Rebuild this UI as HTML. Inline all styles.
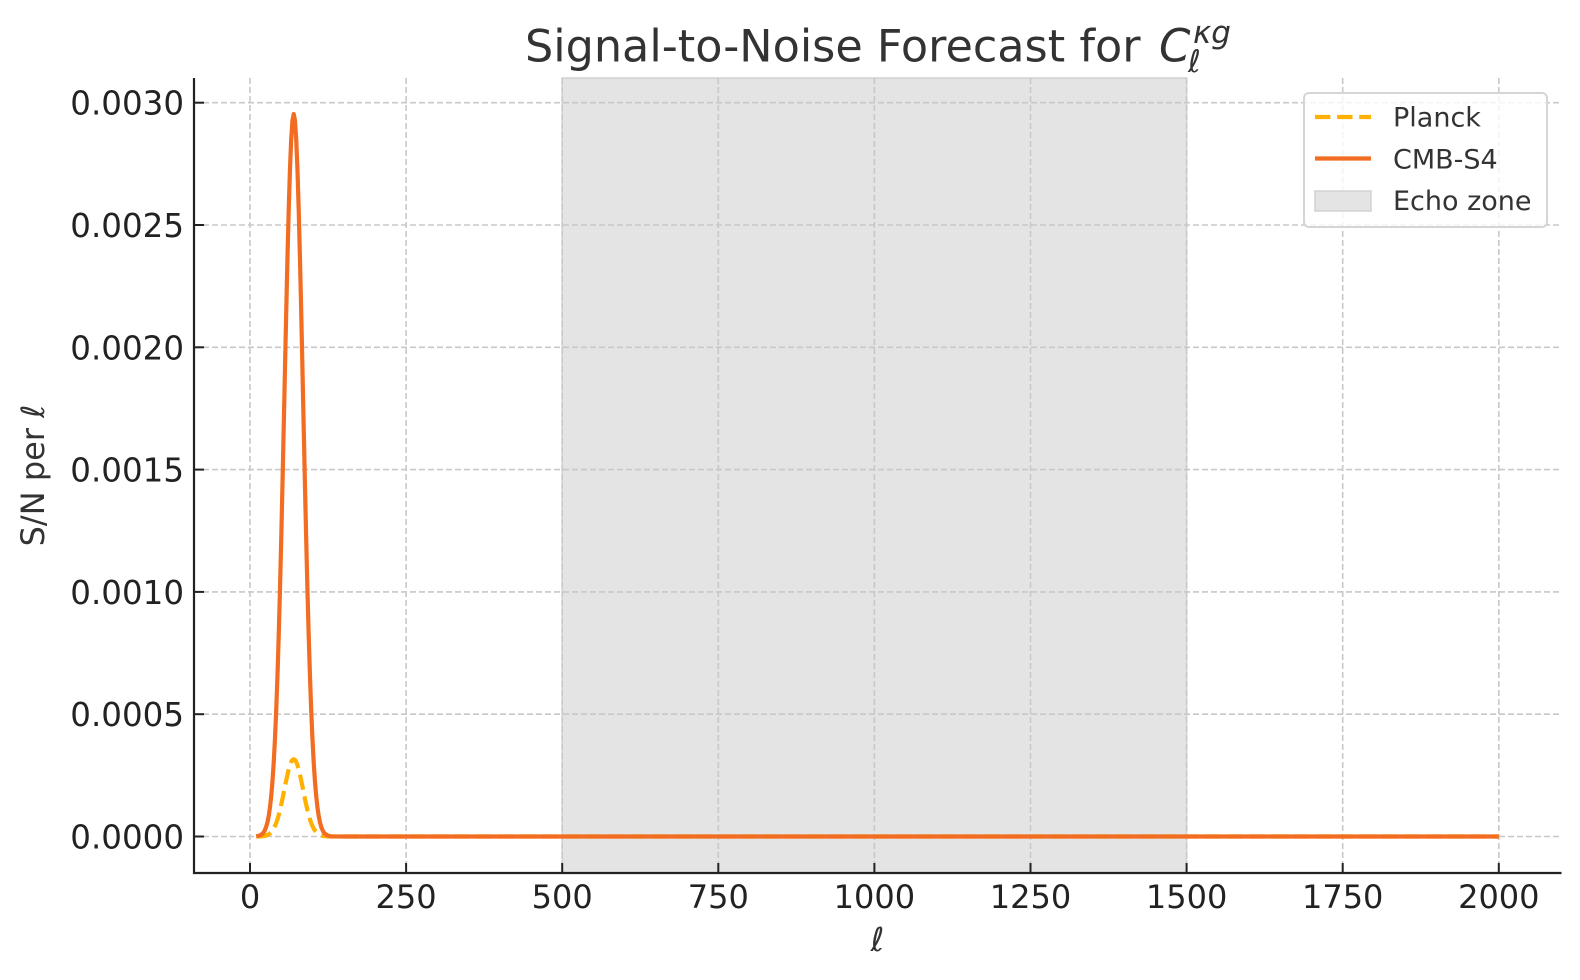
<!DOCTYPE html>
<html>
<head>
<meta charset="utf-8">
<style>
  html, body { margin: 0; padding: 0; background: #ffffff; }
  svg { display: block; }
  text { font-family: "DejaVu Sans", "Liberation Sans", sans-serif; }
</style>
</head>
<body>
<svg width="1580" height="980" viewBox="0 0 1580 980" xmlns="http://www.w3.org/2000/svg">
  <rect x="0" y="0" width="1580" height="980" fill="#ffffff"/>

  <!-- Echo zone shade -->
  <rect x="562.2" y="78" width="624.4" height="795" fill="#e4e4e4" stroke="#d2d2d2" stroke-width="1.5"/>

  <!-- Grid -->
  <g stroke="#c8c8c8" stroke-width="1.6" stroke-dasharray="6 3" fill="none">
    <line x1="194" y1="836.5" x2="1561" y2="836.5"/>
    <line x1="194" y1="714.2" x2="1561" y2="714.2"/>
    <line x1="194" y1="591.9" x2="1561" y2="591.9"/>
    <line x1="194" y1="469.6" x2="1561" y2="469.6"/>
    <line x1="194" y1="347.3" x2="1561" y2="347.3"/>
    <line x1="194" y1="225.0" x2="1561" y2="225.0"/>
    <line x1="194" y1="102.7" x2="1561" y2="102.7"/>
    <line x1="250" y1="78" x2="250" y2="873"/>
    <line x1="406.1" y1="78" x2="406.1" y2="873"/>
    <line x1="562.2" y1="78" x2="562.2" y2="873"/>
    <line x1="718.3" y1="78" x2="718.3" y2="873"/>
    <line x1="874.4" y1="78" x2="874.4" y2="873"/>
    <line x1="1030.5" y1="78" x2="1030.5" y2="873"/>
    <line x1="1186.6" y1="78" x2="1186.6" y2="873"/>
    <line x1="1342.7" y1="78" x2="1342.7" y2="873"/>
    <line x1="1498.8" y1="78" x2="1498.8" y2="873"/>
  </g>

  <!-- Planck (dashed) -->
  <path fill="none" stroke="#ffb000" stroke-width="4.2" stroke-dasharray="15.4 6.7" stroke-linejoin="round"
    d="M256.24,836.5 L259.99,836.4 L262.49,836.2 L263.74,836.0 L264.99,835.8 L266.24,835.5 L267.48,835.0 L268.73,834.3 L269.98,833.4 L271.23,832.2 L272.48,830.6 L273.73,828.6 L274.98,826.0 L276.23,823.0 L277.48,819.3 L278.72,815.0 L279.97,810.1 L281.22,804.7 L282.47,798.9 L283.72,792.7 L284.97,786.5 L286.22,780.4 L287.47,774.6 L288.71,769.4 L289.96,765.1 L291.21,761.9 L292.46,759.9 L293.71,759.2 L294.96,759.9 L296.21,761.9 L297.46,765.1 L298.71,769.4 L299.95,774.6 L301.2,780.4 L302.45,786.5 L303.7,792.7 L304.95,798.9 L306.2,804.7 L307.45,810.1 L308.7,815.0 L309.95,819.3 L311.19,823.0 L312.44,826.0 L313.69,828.6 L314.94,830.6 L316.19,832.2 L317.44,833.4 L318.69,834.3 L319.94,835.0 L321.19,835.5 L322.43,835.8 L323.68,836.0 L324.93,836.2 L327.43,836.4 L331.18,836.5 L1498.8,836.5"/>

  <!-- CMB-S4 (solid) -->
  <path fill="none" stroke="#f26c22" stroke-width="4.2" stroke-linejoin="round" stroke-linecap="butt"
    d="M256.24,836.3 L257.49,836.1 L259.99,835.4 L262.49,833.7 L263.74,832.2 L264.99,829.9 L266.24,826.7 L267.48,822.2 L268.73,815.9 L269.98,807.3 L271.23,795.9 L272.48,781.1 L273.73,762.3 L274.98,738.7 L276.23,710.0 L277.48,675.6 L278.72,635.6 L279.97,590.0 L281.22,539.5 L282.47,484.8 L283.72,427.5 L284.97,369.1 L286.22,311.9 L287.47,258.0 L288.71,209.8 L289.96,169.5 L291.21,139.2 L292.46,120.4 L293.71,114.0 L294.96,120.4 L296.21,139.2 L297.46,169.5 L298.71,209.8 L299.95,258.0 L301.2,311.9 L302.45,369.1 L303.7,427.5 L304.95,484.8 L306.2,539.5 L307.45,590.0 L308.7,635.6 L309.95,675.6 L311.19,710.0 L312.44,738.7 L313.69,762.3 L314.94,781.1 L316.19,795.9 L317.44,807.3 L318.69,815.9 L319.94,822.2 L321.19,826.7 L322.43,829.9 L323.68,832.2 L324.93,833.7 L327.43,835.4 L329.93,836.1 L331.18,836.3 L340,836.5 L1498.8,836.5"/>

  <!-- Spines -->
  <g stroke="#222222" stroke-width="2.2" fill="none">
    <line x1="194" y1="78" x2="194" y2="874"/>
    <line x1="193" y1="873" x2="1561.5" y2="873"/>
  </g>

  <!-- Ticks (inward) -->
  <g stroke="#222222" stroke-width="2" fill="none">
    <line x1="250" y1="873" x2="250" y2="863"/>
    <line x1="406.1" y1="873" x2="406.1" y2="863"/>
    <line x1="562.2" y1="873" x2="562.2" y2="863"/>
    <line x1="718.3" y1="873" x2="718.3" y2="863"/>
    <line x1="874.4" y1="873" x2="874.4" y2="863"/>
    <line x1="1030.5" y1="873" x2="1030.5" y2="863"/>
    <line x1="1186.6" y1="873" x2="1186.6" y2="863"/>
    <line x1="1342.7" y1="873" x2="1342.7" y2="863"/>
    <line x1="1498.8" y1="873" x2="1498.8" y2="863"/>
    <line x1="194" y1="836.5" x2="204" y2="836.5"/>
    <line x1="194" y1="714.2" x2="204" y2="714.2"/>
    <line x1="194" y1="591.9" x2="204" y2="591.9"/>
    <line x1="194" y1="469.6" x2="204" y2="469.6"/>
    <line x1="194" y1="347.3" x2="204" y2="347.3"/>
    <line x1="194" y1="225.0" x2="204" y2="225.0"/>
    <line x1="194" y1="102.7" x2="204" y2="102.7"/>
  </g>

  <!-- X tick labels -->
  <g font-size="32" fill="#222222" text-anchor="middle">
    <text x="250" y="908">0</text>
    <text x="406.1" y="908">250</text>
    <text x="562.2" y="908">500</text>
    <text x="718.3" y="908">750</text>
    <text x="874.4" y="908">1000</text>
    <text x="1030.5" y="908">1250</text>
    <text x="1186.6" y="908">1500</text>
    <text x="1342.7" y="908">1750</text>
    <text x="1498.8" y="908">2000</text>
  </g>

  <!-- Y tick labels -->
  <g font-size="32.5" fill="#222222" text-anchor="end">
    <text x="184" y="848.5">0.0000</text>
    <text x="184" y="726.2">0.0005</text>
    <text x="184" y="603.9">0.0010</text>
    <text x="184" y="481.6">0.0015</text>
    <text x="184" y="359.3">0.0020</text>
    <text x="184" y="237.0">0.0025</text>
    <text x="184" y="114.7">0.0030</text>
  </g>

  <!-- Axis labels -->
  <text x="877.5" y="951" font-size="33" font-style="italic" fill="#333333" text-anchor="middle">ℓ</text>
  <text transform="translate(44,475.5) rotate(-90)" font-size="32" fill="#333333" text-anchor="middle">S/N per <tspan font-style="italic">ℓ</tspan></text>

  <!-- Title -->
  <text x="525" y="61.7" font-size="44.5" fill="#333333">Signal-to-Noise Forecast for</text>
  <text x="1159" y="61.7" font-size="45" font-style="italic" fill="#333333">C</text>
  <text x="1193" y="43" font-size="31" font-style="italic" fill="#333333">κg</text>
  <text x="1188" y="72" font-size="31" font-style="italic" fill="#333333">ℓ</text>

  <!-- Legend -->
  <rect x="1304" y="93" width="243" height="134" rx="5" ry="5" fill="#ffffff" fill-opacity="0.8" stroke="#d5d5d5" stroke-width="2"/>
  <line x1="1315" y1="117" x2="1371" y2="117" stroke="#ffb000" stroke-width="4.2" stroke-dasharray="15.4 6.7"/>
  <line x1="1315" y1="158.5" x2="1371" y2="158.5" stroke="#f26c22" stroke-width="4.2"/>
  <rect x="1315" y="191" width="56" height="20" fill="#e4e4e4" stroke="#d2d2d2" stroke-width="1.5"/>
  <g font-size="27" fill="#333333">
    <text x="1393" y="126.7">Planck</text>
    <text x="1393" y="168.3">CMB-S4</text>
    <text x="1393" y="210">Echo zone</text>
  </g>
</svg>
</body>
</html>
